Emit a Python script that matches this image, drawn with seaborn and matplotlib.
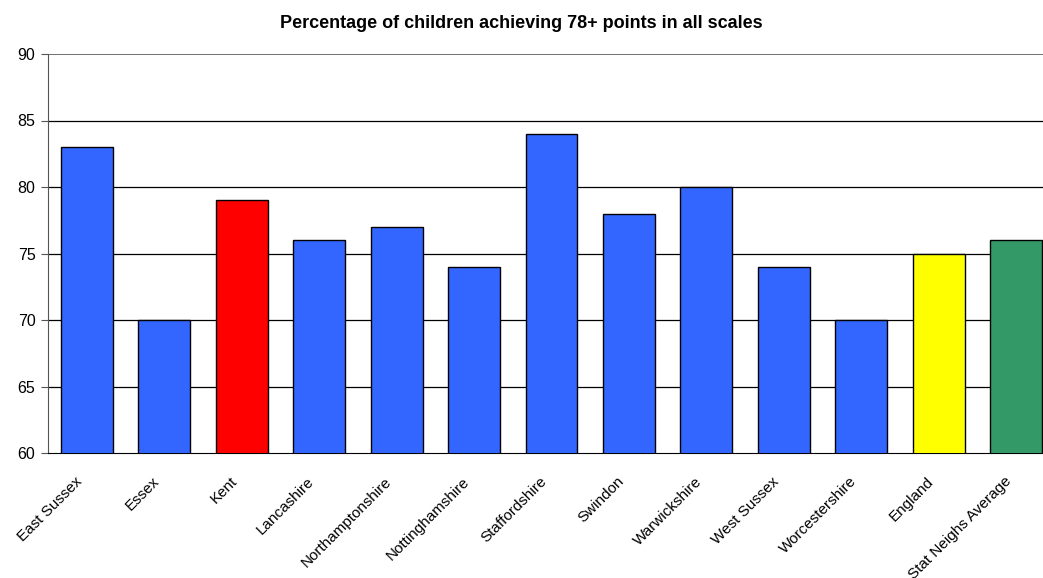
import matplotlib
matplotlib.use("Agg")
import matplotlib.pyplot as plt
import seaborn as sns
import pandas as pd
import numpy as np

categories = ["East Sussex", "Essex", "Kent", "Lancashire", "Northamptonshire",
              "Nottinghamshire", "Staffordshire", "Swindon", "Warwickshire",
              "West Sussex", "Worcestershire", "England", "Stat Neighs Average"]
values = [83, 70, 79, 76, 77, 74, 84, 78, 80, 74, 70, 75, 76]
colors = ["#3366FF", "#3366FF", "#FF0000", "#3366FF", "#3366FF", "#3366FF",
          "#3366FF", "#3366FF", "#3366FF", "#3366FF", "#3366FF", "#FFFF00", "#339966"]
title = "Percentage of children achieving 78+ points in all scales"
yticks = [60, 65, 70, 75, 80, 85, 90]

sns.set_style("white")
plt.rcParams['font.family'] = ['Liberation Sans', 'DejaVu Sans']
plt.rcParams['text.color'] = 'black'

df = pd.DataFrame({"cat": categories, "val": values})

fig = plt.figure(figsize=(10.43, 5.78), dpi=100)
ax = fig.add_axes([48/1043, 125/578, 1007/1043, 399/578])

sns.barplot(data=df, x="cat", y="val", hue="cat", palette=dict(zip(categories, colors)),
            legend=False, width=0.67, saturation=1, edgecolor="black", linewidth=1.0,
            ax=ax, zorder=3)

ax.set_ylim(60, 90)
ax.set_xlim(-0.5, len(categories) - 0.5)
ax.set_yticks(yticks)
ax.set_yticklabels([str(v) for v in yticks], fontsize=11.5, color="black")
for v in yticks[1:-1]:
    ax.axhline(v, color="black", linewidth=0.9, zorder=1)
ax.axhline(yticks[-1], color="#666666", linewidth=1.3, zorder=1)

# label anchors slightly left of category centres (Excel-style placement)
ax.set_xticks(np.arange(len(categories)) - 0.09)
ax.set_xticklabels(categories, rotation=45, ha="right", va="center",
                   rotation_mode="anchor", fontsize=11, color="black")
ax.tick_params(axis="x", which="major", length=0, pad=19)
ax.set_xticks(np.arange(-0.5, len(categories), 1.0), minor=True)
ax.tick_params(axis="x", which="minor", length=5, width=0.8, color="#555555")
ax.tick_params(axis="y", length=5, width=0.8, left=True, color="#555555", pad=4)

for s in ["top", "right"]:
    ax.spines[s].set_visible(False)
ax.spines["left"].set_color("#555555")
ax.spines["bottom"].set_color("black")
ax.set_xlabel("")
ax.set_ylabel("")

fig.text(0.5, 1 - 24/578, title, ha="center", va="center", fontsize=13,
         fontweight="bold", color="black")

fig.savefig("out.png", dpi=100)
